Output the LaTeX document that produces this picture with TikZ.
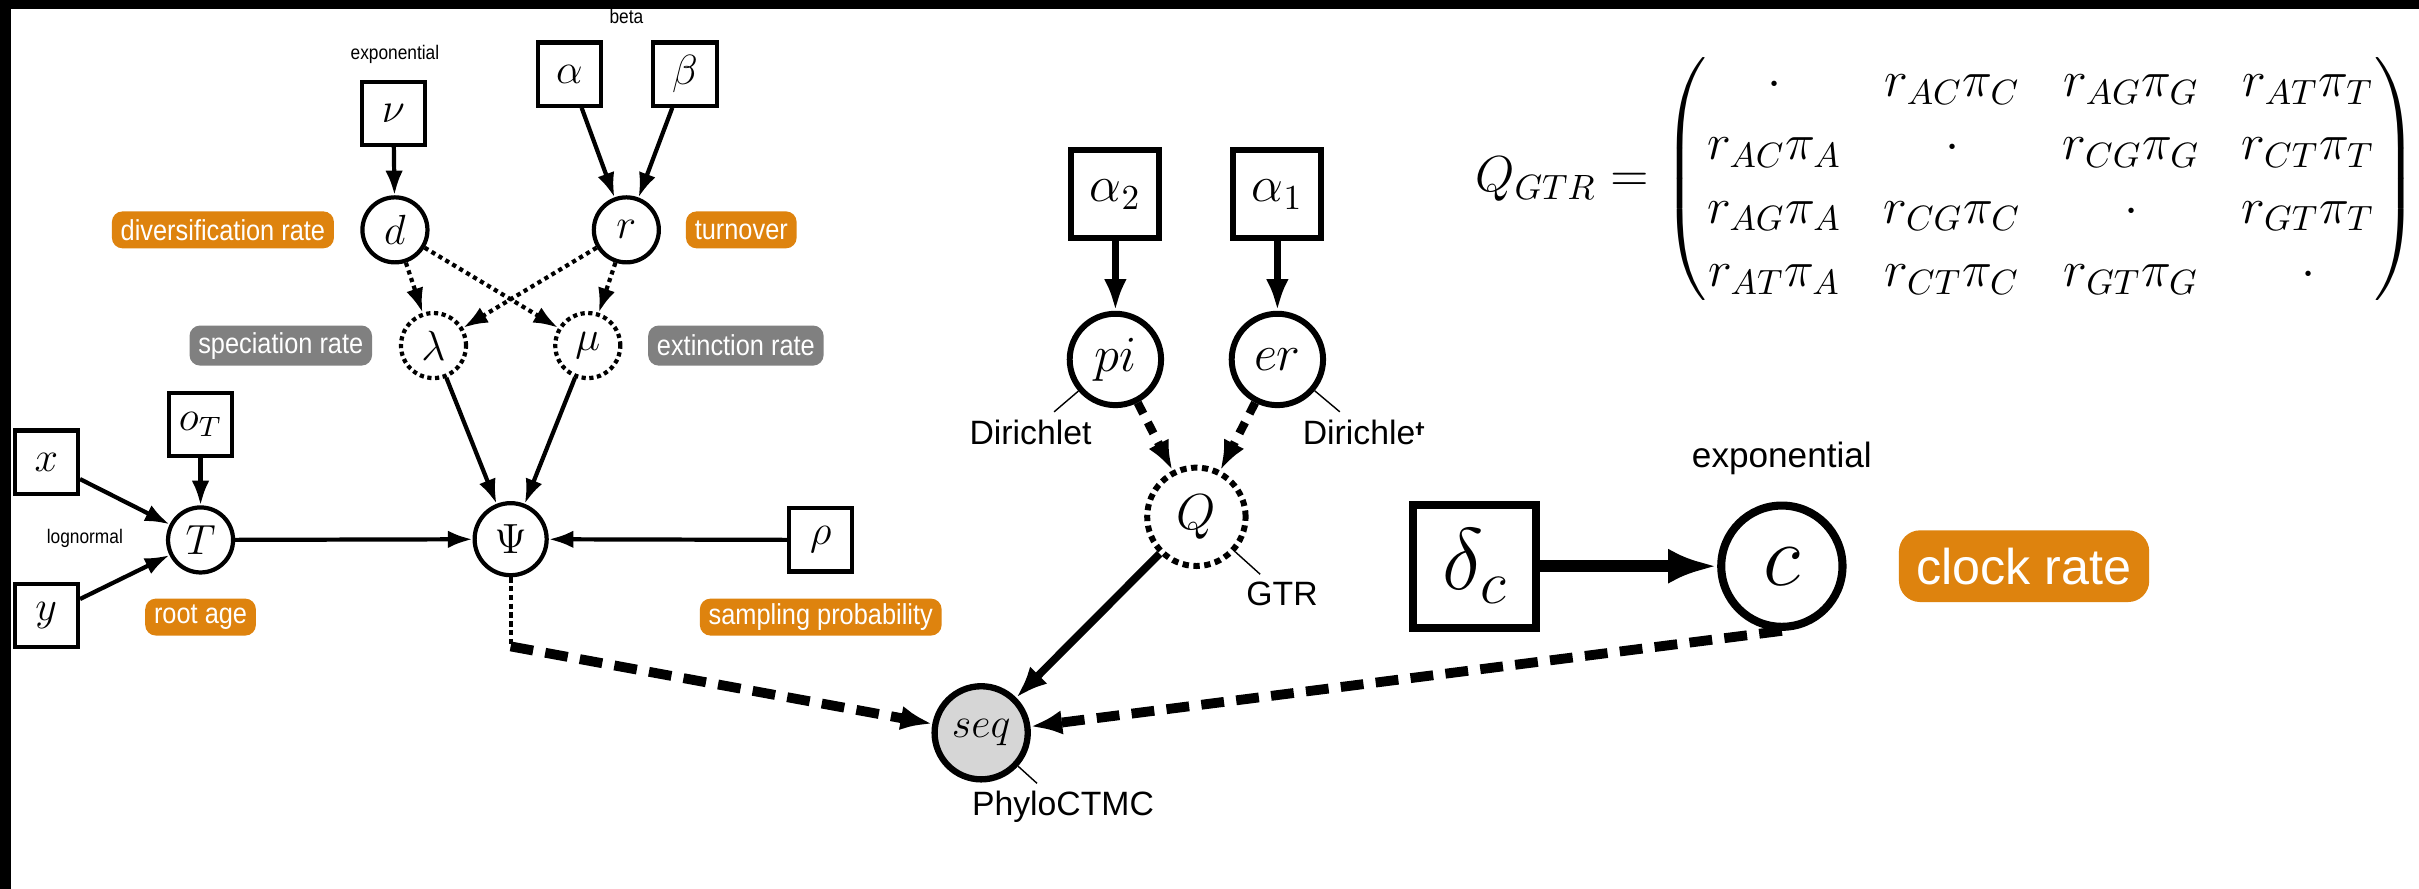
\documentclass[tikz,border=0pt]{standalone}
\usepackage{fontspec}
\usepackage{amsmath}
\usetikzlibrary{arrows.meta}
\newfontfamily\labelfont{Liberation Sans}
\newfontfamily\narrowfont[FakeStretch=0.88]{Liberation Sans}
\definecolor{rateorange}{RGB}{222,131,14}
\definecolor{rategray}{RGB}{128,128,128}
\definecolor{obsgray}{RGB}{214,214,214}
\tikzset{
  const/.style={draw, rectangle, line width=1.2pt, minimum size=18pt, inner sep=0pt, font=\large},
  stoch/.style={draw, circle, line width=1.2pt, minimum size=18.5pt, inner sep=0pt, font=\large},
  determ/.style={stoch, dash pattern=on 1.2pt off 1pt},
  bigconst/.style={draw, rectangle, line width=1.7pt, minimum size=25pt, inner sep=0pt, font=\Large},
  bigstoch/.style={draw, circle, line width=1.7pt, minimum size=26pt, inner sep=0pt, font=\Large},
  bigdeterm/.style={bigstoch, minimum size=28pt, dash pattern=on 1.8pt off 1.3pt},
  obs/.style={draw, circle, fill=obsgray, line width=1.8pt, minimum size=26.5pt, inner sep=0pt, font=\large},
  hugeconst/.style={draw, rectangle, line width=2.3pt, minimum size=35pt, inner sep=0pt, font=\fontsize{24}{28}\selectfont},
  hugestoch/.style={draw, circle, line width=2.3pt, minimum size=34.5pt, inner sep=0pt, font=\fontsize{24}{28}\selectfont},
  solidedge/.style={-{Latex[length=7pt,width=5pt]}, line width=1.2pt},
  dotedge/.style={solidedge, dash pattern=on 1.2pt off 1.1pt},
  midedge/.style={-{Latex[length=9pt,width=6.5pt]}, line width=1.9pt},
  middashed/.style={-{Latex[length=8.5pt,width=6.5pt]}, line width=2.4pt, dash pattern=on 3.5pt off 2.8pt},
  seqedge/.style={-{Latex[length=9pt,width=7pt]}, line width=2.2pt},
  thindash/.style={line width=1.1pt, dash pattern=on 1.5pt off 1pt},
  thickdash/.style={-{Latex[length=9pt,width=7pt]}, line width=2.8pt, dash pattern=on 6.5pt off 3.5pt},
  clockedge/.style={-{Latex[length=14pt,width=10pt]}, line width=3.3pt},
  pinline/.style={line width=0.4pt},
  orangetag/.style={fill=rateorange, text=white, rounded corners=3pt, font=\narrowfont\fontsize{8.2}{9}\selectfont, inner xsep=2.5pt, inner ysep=0pt, minimum height=10.5pt},
  graytag/.style={orangetag, fill=rategray, minimum height=11.4pt},
  clocktag/.style={fill=rateorange, text=white, rounded corners=6pt, font=\labelfont\fontsize{14.3}{16}\selectfont, inner xsep=5pt, inner ysep=0pt, minimum height=20.4pt},
  smalltext/.style={font=\narrowfont\fontsize{5.6}{6.5}\selectfont, inner sep=1pt},
  distname/.style={font=\labelfont\fontsize{9.6}{11}\selectfont, inner sep=2pt}
}
\begin{document}
\begin{tikzpicture}[x=0.015427cm, y=-0.015427cm]
  \useasboundingbox (0,0) rectangle (1568,576);
  \fill[white] (0,0) rectangle (1568,576);
  \fill[black] (0,0) rectangle (1568,5.8);
  \fill[black] (0,0) rectangle (7,576);

  % birth-death prior
  \node[const] (nu) at (255,73.5) {$\nu$};
  \node[const] (alpha) at (369,48) {$\alpha$};
  \node[const] (beta) at (444,48) {$\beta$};
  \node[stoch] (d) at (256,149) {$d$};
  \node[stoch] (r) at (406,149) {$r$};
  \node[determ] (lambda) at (281,224) {$\lambda$};
  \node[determ] (mu) at (381,224) {$\mu$};
  \node[const] (oT) at (130,275) {$o_T$};
  \node[const] (xbox) at (30,299.5) {$x$};
  \node[const] (ybox) at (30,399) {$y$};
  \node[stoch] (T) at (130,350) {$T$};
  \node[stoch, minimum size=20.5pt] (Psi) at (331,349.5) {$\Psi$};
  \node[const] (rho) at (532,350) {$\rho$};

  \node[smalltext] (nuprior) at (256,35) {exponential};
  \node[smalltext] (rprior) at (406,11) {beta};
  \node[smalltext] (Tprior) at (55,349) {lognormal};

  \node[orangetag] (divtag) at (144.5,149) {diversification rate};
  \node[orangetag] (turntag) at (480.5,149) {turnover};
  \node[graytag] (spectag) at (182,224) {speciation rate};
  \node[graytag] (exttag) at (477,224) {extinction rate};
  \node[orangetag] (roottag) at (130,400) {root age};
  \node[orangetag] (samptag) at (532,400) {sampling probability};

  \draw[solidedge] (nu) -- (d);
  \foreach \source/\dest in {alpha/r, beta/r, lambda/Psi, mu/Psi, T/Psi, rho/Psi, oT/T, xbox/T, ybox/T}
    \draw[solidedge] (\source) -- (\dest);
  \foreach \source/\dest in {d/lambda, d/mu, r/lambda, r/mu}
    \draw[dotedge] (\source) -- (\dest);

  % substitution model
  \node[bigconst] (alphaB) at (723,126) {$\alpha_2$};
  \node[bigconst] (alphaA) at (828,126) {$\alpha_1$};
  \node[bigstoch] (pi) at (723,233) {$pi$};
  \node[bigstoch] (er) at (828,233) {$er$};
  \node[bigdeterm] (Q) at (775.5,335) {$Q$};
  \node[obs] (seq) at (636,475) {$seq$};

  \node[distname] (piprior) at (668,280) {Dirichlet};
  \node[distname] (erprior) at (884,280) {Dirichlet};
  \node[distname] (Qfun) at (831,385) {GTR};
  \node[distname] (seqdist) at (689,523) {PhyloCTMC};
  \fill[white] (916,282) rectangle (1230,420);

  \foreach \source/\dest in {pi/piprior, er/erprior, Q/Qfun, seq/seqdist}
    \draw[pinline] (\source) -- (\dest);
  \draw[midedge] (alphaB) -- (pi);
  \draw[midedge] (alphaA) -- (er);
  \draw[middashed] (pi) -- (Q);
  \draw[middashed] (er) -- (Q);
  \draw[seqedge] (Q) -- (seq);

  \coordinate (bend) at (331,419);
  \draw[thindash] (Psi) -- (bend);
  \draw[thickdash] (bend) -- (seq);

  % clock
  \node[hugeconst] (delta) at (956,367) {$\delta_c$};
  \node[hugestoch] (c) at (1155,367) {$c$};
  \node[distname, font=\labelfont\fontsize{10}{12}\selectfont] (cprior) at (1155,297) {exponential};
  \node[clocktag] (clocktag) at (1312,367) {clock rate};
  \draw[clockedge] (delta) -- (c);
  \draw[thickdash] (c.south) -- (seq);

  \node[font=\Large] (Qmat) at (1262,116) {$Q_{GTR} = \arraycolsep=6pt
    \begin{pmatrix}
      \cdot & r_{AC}\pi_C & r_{AG}\pi_G & r_{AT}\pi_T\\
      r_{AC}\pi_A & \cdot & r_{CG}\pi_G & r_{CT}\pi_T\\
      r_{AG}\pi_A & r_{CG}\pi_C & \cdot & r_{GT}\pi_T\\
      r_{AT}\pi_A & r_{CT}\pi_C & r_{GT}\pi_G & \cdot
    \end{pmatrix}$};
\end{tikzpicture}
\end{document}
